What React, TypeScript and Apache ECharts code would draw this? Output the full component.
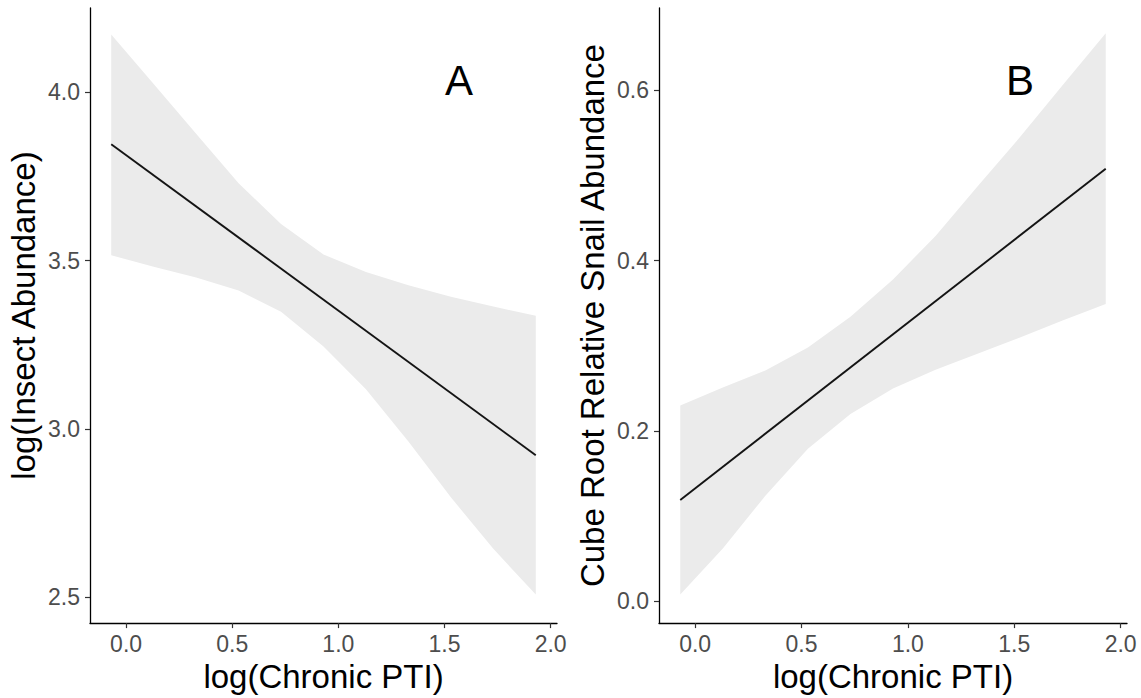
import React, { useEffect, useRef } from "react";
import * as echarts from "echarts";

const FONT = "Liberation Sans, Arial, Helvetica, sans-serif";

// predictor grid (log(Chronic PTI)) where the confidence bands were read
const xGrid = [-0.07, 0.13, 0.33, 0.53, 0.73, 0.93, 1.13, 1.33, 1.53, 1.73, 1.93];

// Panel A: log(Insect Abundance)
const insectUpper = [4.172, 4.025, 3.877, 3.73, 3.609, 3.518, 3.466, 3.427, 3.393, 3.364, 3.336];
const insectLower = [3.516, 3.482, 3.45, 3.411, 3.348, 3.245, 3.118, 2.963, 2.797, 2.644, 2.508];
const fitX = [-0.07, 1.93];
const insectFit = [3.846, 2.922];

// Panel B: Cube Root Relative Snail Abundance
const snailUpper = [0.23, 0.251, 0.271, 0.298, 0.334, 0.378, 0.429, 0.488, 0.546, 0.607, 0.667];
const snailLower = [0.008, 0.062, 0.124, 0.179, 0.22, 0.25, 0.272, 0.291, 0.31, 0.33, 0.349];
const snailFit = [0.119, 0.508];

// tick labels
const xTicks = [0, 0.5, 1.0, 1.5, 2.0];
const insectTicks = [2.5, 3.0, 3.5, 4.0];
const snailTicks = [0.0, 0.2, 0.4, 0.6];

const panelLabels = ["A", "B"];

function bandSeries(idx: number, upper: number[], lower: number[]) {
  return {
    type: "custom",
    xAxisIndex: idx,
    yAxisIndex: idx,
    silent: true,
    data: [[xGrid[0], upper[0]]],
    renderItem: (_params: any, api: any) => {
      const pts: number[][] = [];
      for (let i = 0; i < xGrid.length; i++) pts.push(api.coord([xGrid[i], upper[i]]));
      for (let i = xGrid.length - 1; i >= 0; i--) pts.push(api.coord([xGrid[i], lower[i]]));
      return { type: "polygon", shape: { points: pts }, style: { fill: "#EBEBEB" } };
    },
    z: 1,
  };
}

function lineSeries(idx: number, ys: number[]) {
  return {
    type: "line",
    xAxisIndex: idx,
    yAxisIndex: idx,
    data: fitX.map((x, i) => [x, ys[i]]),
    showSymbol: false,
    symbol: "none",
    lineStyle: { color: "#141414", width: 1.9 },
    z: 3,
  };
}

function xAxis(idx: number) {
  return {
    type: "value",
    gridIndex: idx,
    min: -0.17,
    max: 2.03,
    name: "log(Chronic PTI)",
    nameLocation: "middle",
    nameGap: 30,
    nameTextStyle: { fontSize: 33, color: "#000", fontFamily: FONT, verticalAlign: "top" },
    axisLine: { show: true, onZero: false, lineStyle: { color: "#000", width: 1.3 } },
    axisTick: { show: true, length: 5, lineStyle: { color: "#333", width: 1.2 }, customValues: xTicks },
    axisLabel: {
      fontSize: 23,
      color: "#4D4D4D",
      fontFamily: FONT,
      margin: 9,
      customValues: xTicks,
      formatter: (v: number) => v.toFixed(1),
    },
    splitLine: { show: false },
  };
}

function yAxis(idx: number, min: number, max: number, ticks: number[], name: string, gap: number) {
  return {
    type: "value",
    gridIndex: idx,
    min,
    max,
    name,
    nameLocation: "middle",
    nameGap: gap,
    nameTextStyle: { fontSize: 33, color: "#000", fontFamily: FONT },
    axisLine: { show: true, onZero: false, lineStyle: { color: "#000", width: 1.3 } },
    axisTick: { show: true, length: 5, lineStyle: { color: "#333", width: 1.2 }, customValues: ticks },
    axisLabel: {
      fontSize: 23,
      color: "#4D4D4D",
      fontFamily: FONT,
      margin: 10,
      customValues: ticks,
      formatter: (v: number) => v.toFixed(1),
    },
    splitLine: { show: false },
  };
}

export default function App() {
  const ref = useRef<HTMLDivElement>(null);
  useEffect(() => {
    const chart = echarts.init(ref.current!, null, { renderer: "svg" });
    chart.setOption({
      animation: false,
      backgroundColor: "#fff",
      grid: [
        { left: 90, top: 8, width: 467, height: 620 },
        { left: 659, top: 8, width: 468, height: 620 },
      ],
      xAxis: [xAxis(0), xAxis(1)],
      yAxis: [
        yAxis(0, 2.4234, 4.2505, insectTicks, "log(Insect Abundance)", 50),
        yAxis(1, -0.0256, 0.6967, snailTicks, "Cube Root Relative Snail Abundance", 50),
      ],
      series: [
        bandSeries(0, insectUpper, insectLower),
        lineSeries(0, insectFit),
        bandSeries(1, snailUpper, snailLower),
        lineSeries(1, snailFit),
      ],
      graphic: [
        {
          type: "text",
          x: 459,
          y: 80,
          style: { text: panelLabels[0], fontSize: 42, fontFamily: FONT, fill: "#000", align: "center", verticalAlign: "middle" },
        },
        {
          type: "text",
          x: 1020,
          y: 80,
          style: { text: panelLabels[1], fontSize: 42, fontFamily: FONT, fill: "#000", align: "center", verticalAlign: "middle" },
        },
      ],
    });
    return () => chart.dispose();
  }, []);
  return <div ref={ref} style={{ position: "fixed", left: 0, top: 0, width: 1141, height: 698 }} />;
}
